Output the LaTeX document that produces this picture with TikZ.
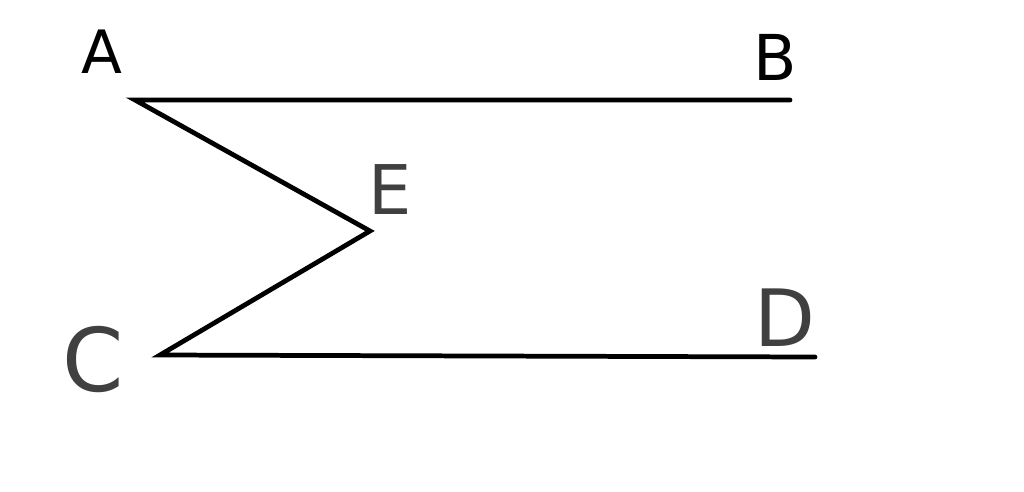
\documentclass[tikz,border=0pt]{standalone}
\usepackage{fontspec}
\setmainfont{DejaVu Sans}
\begin{document}
\begin{tikzpicture}[x=0.02cm,y=-0.02cm,
  seg/.style={line width=2.7pt,black,line cap=round,line join=miter},
  lbl/.style={inner sep=0pt}]
\useasboundingbox (0,0) rectangle (1024,491);
\coordinate (A) at (135,100);
\coordinate (B) at (790,100);
\coordinate (E) at (370,231);
\coordinate (C) at (160,355);
\coordinate (D) at (815,357);
\draw[seg] (B) -- (A) -- (E) -- (C) -- (D);
\node[lbl,text=black,font=\fontsize{34}{34}\selectfont] (la) at (102,52) {A};
\node[lbl,text=black,font=\fontsize{36}{36}\selectfont] (lb) at (775,57) {B};
\node[lbl,text=black!75,font=\fontsize{39}{39}\selectfont] (le) at (390,190) {E};
\node[lbl,text=black!75,font=\fontsize{50}{50}\selectfont] (lc) at (93,360) {C};
\node[lbl,text=black!75,font=\fontsize{45}{45}\selectfont] (ld) at (785,318) {D};
\end{tikzpicture}
\end{document}
